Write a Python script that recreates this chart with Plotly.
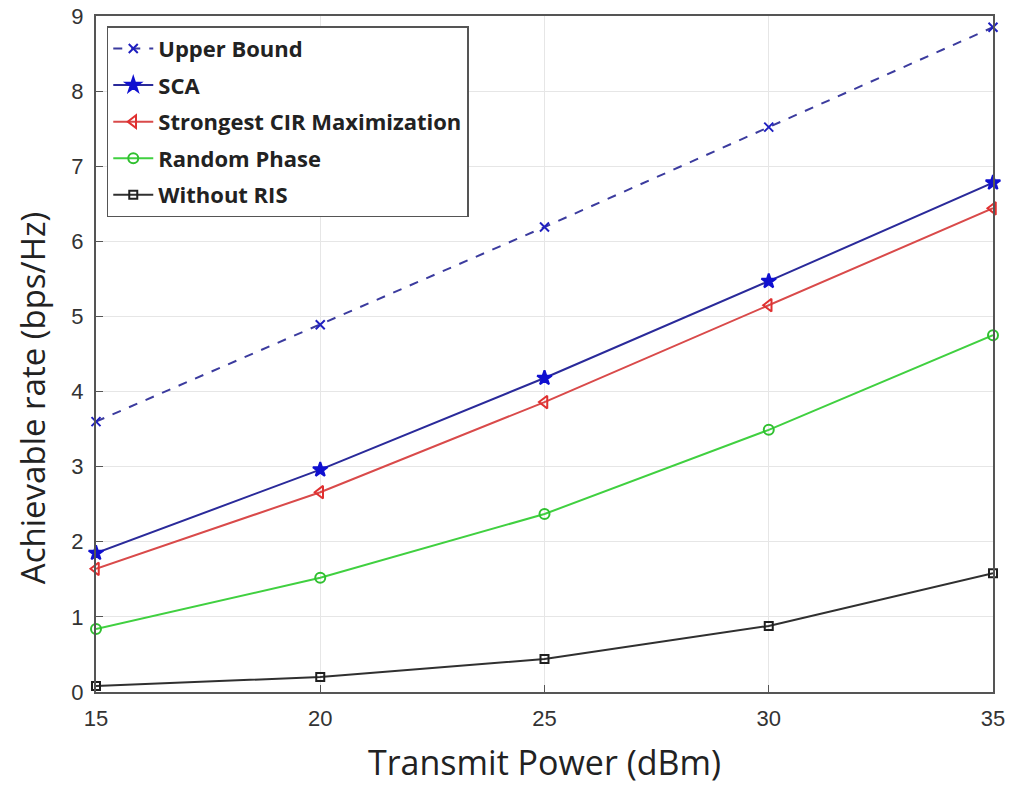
import plotly.graph_objects as go

power = [15, 20, 25, 30, 35]
upper_bound = [3.60, 4.89, 6.19, 7.52, 8.85]
sca = [1.85, 2.96, 4.18, 5.47, 6.78]
strongest_cir = [1.64, 2.66, 3.86, 5.15, 6.44]
random_phase = [0.84, 1.52, 2.37, 3.49, 4.75]
without_ris = [0.08, 0.20, 0.44, 0.88, 1.58]

series = [
    ("Upper Bound", upper_bound, "#3b3b9e", "dash", "x-thin", "#2020c0", 9),
    ("SCA", sca, "#2a2a9a", "solid", "star", "#1010d0", 11),
    ("Strongest CIR Maximization", strongest_cir, "#d94a4a", "solid", "triangle-left-open", "#e03030", 11),
    ("Random Phase", random_phase, "#40d040", "solid", "circle-open", "#30c030", 10),
    ("Without RIS", without_ris, "#303030", "solid", "square-open", "#202020", 8),
]

fig = go.Figure()
for i, (name, vals, lc, dash, sym, mc, ms) in enumerate(series):
    fig.add_trace(go.Scatter(
        x=power, y=vals, name=name, mode="lines+markers",
        legendgroup=f"g{i}",
        line=dict(color=lc, width=2, dash=dash),
        marker=dict(symbol=sym, color=mc, size=ms, line=dict(color=mc, width=2)),
        cliponaxis=False,
    ))

axis_common = dict(
    showgrid=True, gridcolor="#e6e6e6", gridwidth=1,
    showline=True, linecolor="#555555", linewidth=2, mirror=True,
    ticks="inside", ticklen=7, tickcolor="#555555", zeroline=False,
    automargin=False, ticklabelstandoff=6,
    tickfont=dict(family="Liberation Sans, Arial", size=22, color="#333333"),
)

title_font = dict(family="Open Sans, Noto Sans", color="#222222")

fig.update_layout(
    width=1010, height=785,
    margin=dict(l=96, r=17, t=16, b=93),
    paper_bgcolor="white", plot_bgcolor="white",
    xaxis=dict(range=[15, 35], tickvals=power, **axis_common),
    yaxis=dict(range=[0, 9], dtick=1, **axis_common),
    legend=dict(x=0.012, y=0.985, xanchor="left", yanchor="top",
                bgcolor="white", bordercolor="#555555", borderwidth=1.5,
                font=dict(family="Open Sans, Noto Sans", size=22, color="#222222", weight="bold"),
                itemwidth=40, tracegroupgap=5),
    showlegend=True,
    annotations=[
        dict(text="Transmit Power (dBm)", xref="paper", yref="paper",
             x=0.5, y=-0.103, xanchor="center", yanchor="middle", showarrow=False,
             font=dict(size=34, **title_font)),
        dict(text="Achievable rate (bps/Hz)", xref="paper", yref="paper",
             x=-0.07, y=0.435, xanchor="center", yanchor="middle", showarrow=False,
             textangle=-90, font=dict(size=33, **title_font)),
    ],
)

fig.write_html("out.html")
